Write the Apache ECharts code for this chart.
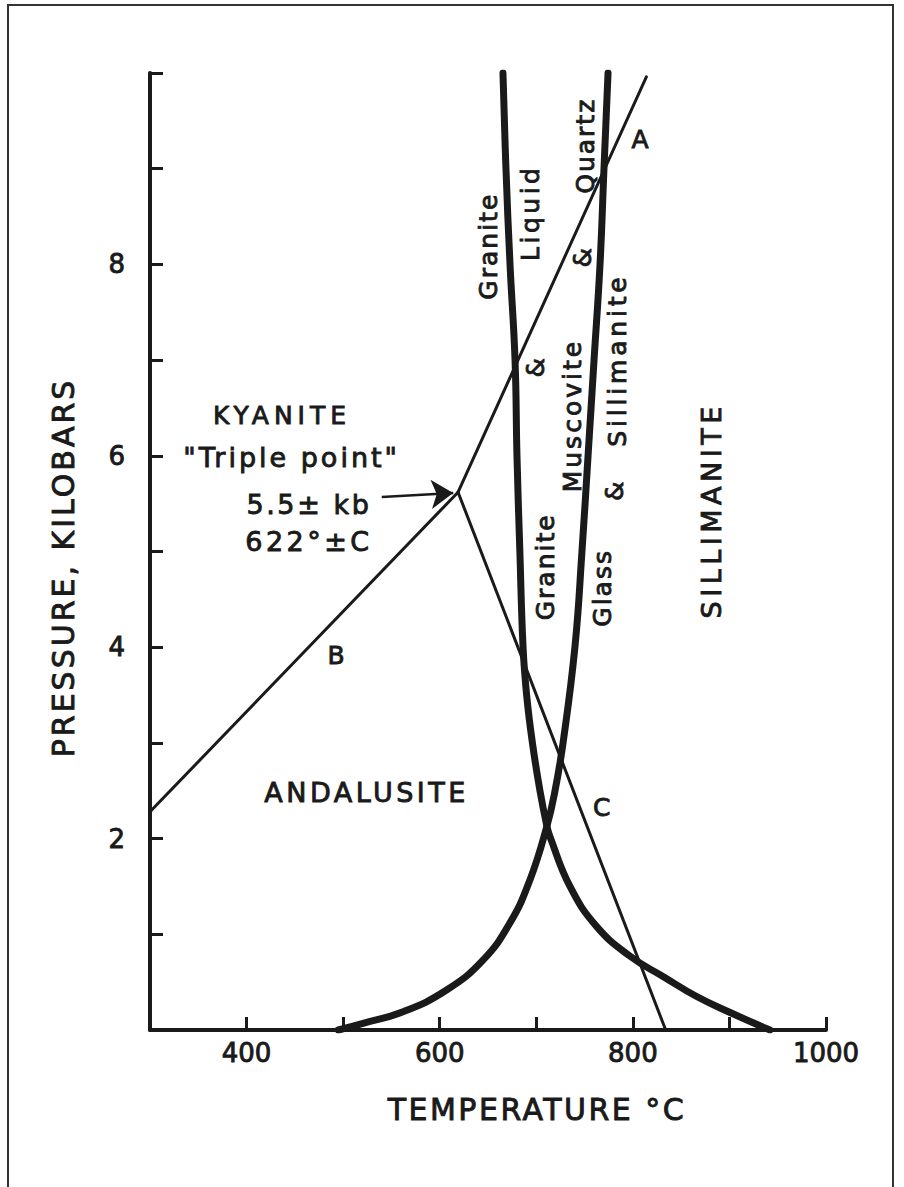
<!DOCTYPE html>
<html><head><meta charset="utf-8">
<script src="https://cdn.jsdelivr.net/npm/echarts@6/dist/echarts.min.js"></script>
<style>html,body{margin:0;padding:0;background:#fff}#chart{width:904px;height:1187px}</style>
</head><body><div id="chart"></div>
<script>
// ---- data (temperature °C, pressure kb) ----
const xTickLabels = [400, 600, 800, 1000];
const yTickLabels = [2, 4, 6, 8];
const graniteMelting = [[665.5,10],[668.6,9],[672.8,8],[678,7],[680,6],[683,5],[686.3,4],[690,3.5],[696,3],[703.8,2.5],[711,2.13],[714.2,2.02],[734.9,1.5],[762.6,1.08],[797.2,0.77],[831.2,0.56],[866.1,0.35],[901.3,0.18],[934.8,0.03],[942,0]];
const muscoviteBreakdown = [[774.3,10],[770.1,9],[766,8],[759.8,7],[753.6,6],[747.3,5],[740,4],[727.7,3],[719.4,2.5],[711,2.13],[693.5,1.57],[672.8,1.12],[644.8,0.73],[607.5,0.42],[562,0.19],[520.6,0.07],[495,0]];
const lineB = [[300,2.28],[619,5.62]];
const lineA = [[619,5.62],[814,9.96]];
const lineC = [[619,5.62],[834,0]];
const arrowLine = [[540,5.57],[614,5.61]];
const annoText = ['KYANITE','"Triple point"','5.5± kb','622°±C','B','ANDALUSITE','C','A','SILLIMANITE','Granite','Liquid','&','Quartz','&','Muscovite','&','Sillimanite','Granite','Glass'];
const annoT = [436.7,446.7,464.6,464.6,492.6,524.2,767.7,807.4,881.6,651,693.5,747.9,750.5,698.7,737,781.5,784.6,710,768.6];
const annoP = [6.42,5.98,5.49,5.10,3.91,2.48,2.33,9.31,5.43,8.19,8.54,8.07,9.24,6.92,6.42,5.63,7.0,4.84,4.62];

// ---- styles ----
const INK = '#1a1a1a';
const FONT = 'DejaVu Sans';
const BOLDEN = {textBorderColor: INK, textBorderWidth: 0.9};
const annoRotate = [0,0,0,0,0,0,0,0,90,90,90,90,90,90,90,90,90,90,90];
const annoSize = [25,27,27,27,25,27,25,25,27,25,25,25,25,25,25,25,25,25,25];
const spacing = {'KYANITE':5,'ANDALUSITE':3.5,'SILLIMANITE':4.5,'"Triple point"':3,'5.5± kb':2.6,'622°±C':3.5,
  'Granite':2,'Liquid':3.5,'Quartz':2,'Muscovite':3,'Sillimanite':3.8,'Glass':2,'TEMPERATURE °C':2.5,'PRESSURE, KILOBARS':3};

const chart = echarts.init(document.getElementById('chart'), null, {renderer: 'svg'});
const thick = (name, data) => ({type:'line', name, data, smooth:0.45, symbol:'none', silent:true,
  lineStyle:{color:INK, width:7, cap:'round', join:'round'}});
const thin = (name, data) => ({type:'line', name, data, symbol:'none', silent:true,
  lineStyle:{color:INK, width:3, cap:'round'}});

chart.setOption({
  animation: false,
  backgroundColor: '#ffffff',
  grid: {left:150, right:78, top:73, bottom:157},
  xAxis: {type:'value', min:300, max:1000, interval:100,
    name:'TEMPERATURE °C', nameLocation:'middle', nameGap:64,
    nameTextStyle:Object.assign({fontFamily:FONT, fontSize:30, color:INK, padding:[0,0,0,98]}, BOLDEN),
    axisLine:{lineStyle:{color:INK, width:4}},
    axisTick:{inside:true, length:13, lineStyle:{color:INK, width:3}},
    axisLabel:Object.assign({margin:10, fontFamily:FONT, fontSize:26, color:INK, formatter: v => xTickLabels.includes(v) ? String(v) : ''}, BOLDEN),
    splitLine:{show:false}},
  yAxis: {type:'value', min:0, max:10, interval:1,
    name:'PRESSURE, KILOBARS', nameLocation:'middle', nameGap:72,
    nameTextStyle:Object.assign({fontFamily:FONT, fontSize:30, color:INK, padding:[0,32,0,0]}, BOLDEN),
    axisLine:{lineStyle:{color:INK, width:4}},
    axisTick:{inside:true, length:13, lineStyle:{color:INK, width:3}},
    axisLabel:Object.assign({margin:25, fontFamily:FONT, fontSize:26, color:INK, formatter: v => yTickLabels.includes(v) ? String(v) : ''}, BOLDEN),
    splitLine:{show:false}},
  graphic: [{type:'polyline', silent:true, shape:{points:[[8,1187],[8,5],[893,5],[893,1187]]},
    style:{stroke:'#333', lineWidth:2, fill:'none'}}],
  series: [
    thick('Granite melting', graniteMelting),
    thick('Muscovite + Quartz breakdown', muscoviteBreakdown),
    thin('A (kyanite–sillimanite)', lineA),
    thin('B (kyanite–andalusite)', lineB),
    thin('C (andalusite–sillimanite)', lineC),
    {type:'line', name:'arrow', data:[], silent:true, symbol:'none',
     markLine:{silent:true, animation:false, symbol:['none','arrow'], symbolSize:22,
       lineStyle:{color:INK, width:2.5, type:'solid', opacity:1}, itemStyle:{color:INK, opacity:1}, label:{show:false},
       data:[[{coord:arrowLine[0]},{coord:arrowLine[1]}]]}},
    {type:'scatter', name:'labels', silent:true, symbolSize:0, itemStyle:{opacity:1},
     data: annoText.map((t,i) => ({name:t, value:[annoT[i], annoP[i]],
       label:{rotate:annoRotate[i], fontSize:annoSize[i]}})),
     label:Object.assign({show:true, position:'inside', formatter:'{b}', fontFamily:FONT, color:INK, opacity:1}, BOLDEN)}
  ]
});

function applySpacing(){
  document.querySelectorAll('#chart svg text').forEach(t => {
    const s = spacing[t.textContent];
    if (s) t.setAttribute('letter-spacing', s + 'px');
  });
}
applySpacing();
chart.on('finished', applySpacing);
setTimeout(applySpacing, 50);
setTimeout(applySpacing, 300);
</script></body></html>
